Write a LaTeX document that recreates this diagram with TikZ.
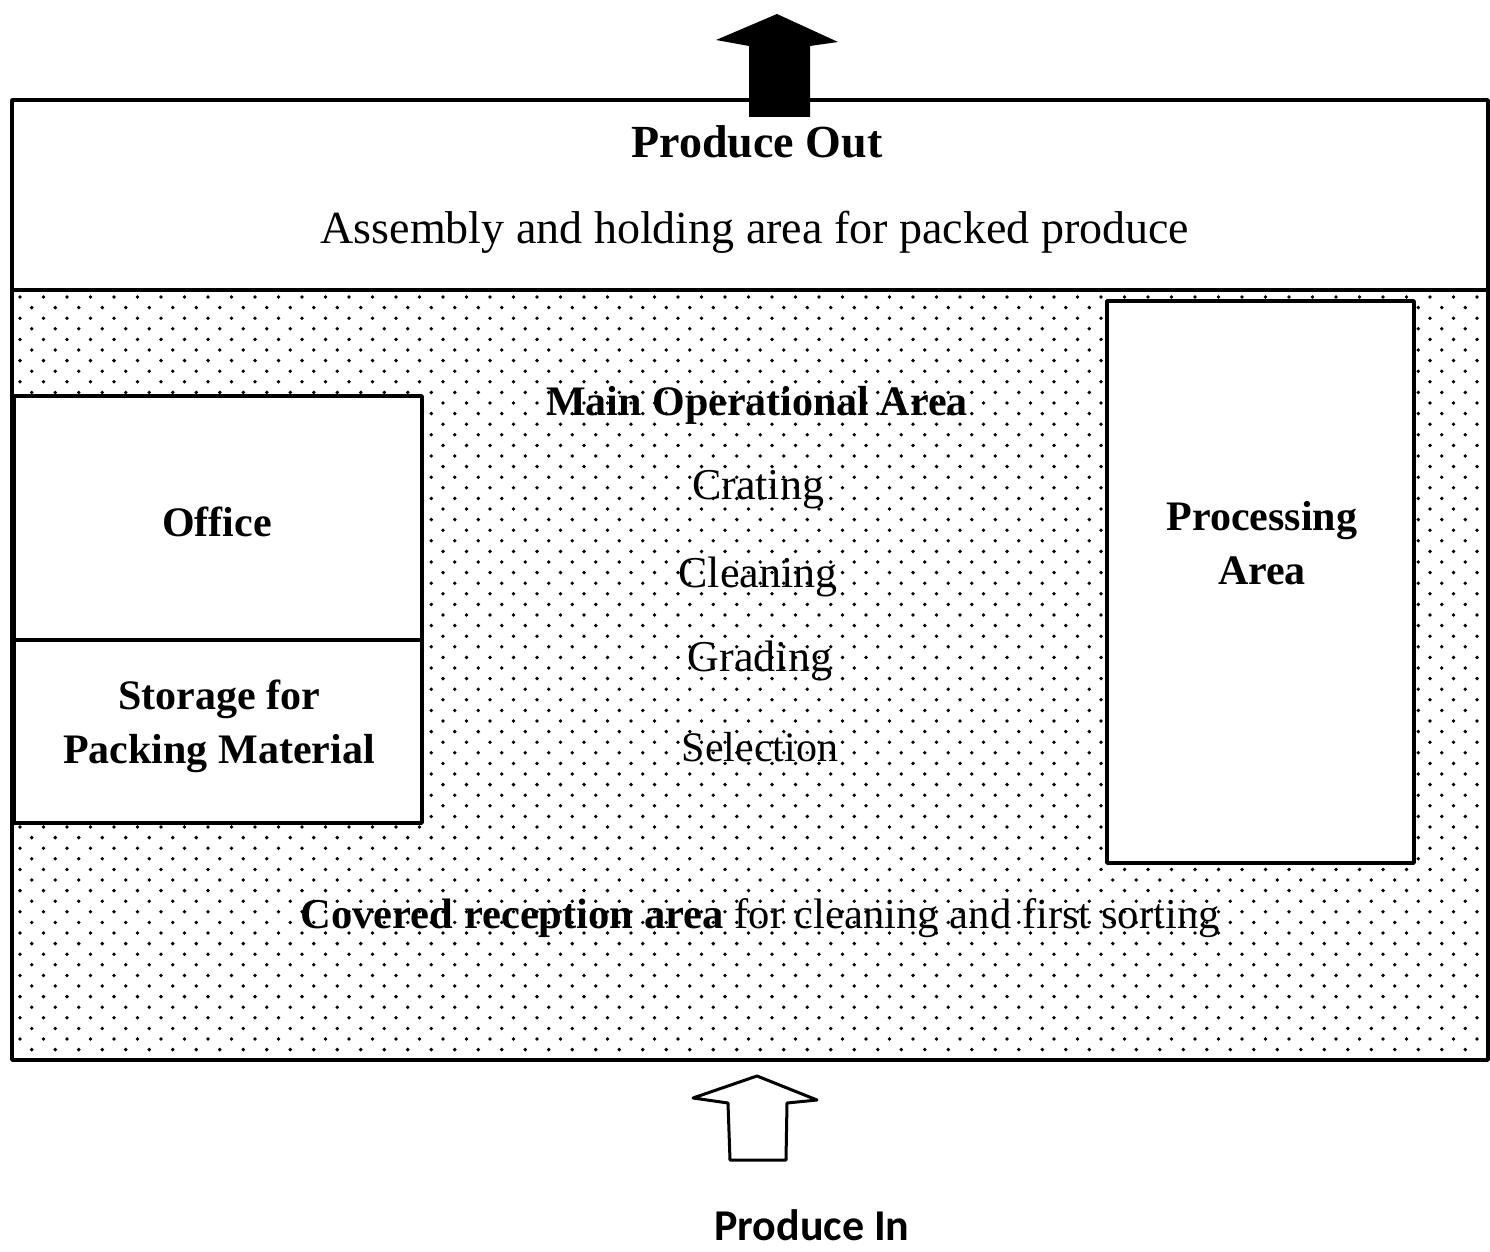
\documentclass[tikz,border=0pt]{standalone}
\usepackage{fontspec}
\setmainfont{Liberation Serif}
\newfontfamily\labelsans{Carlito}
\begin{document}
\begin{tikzpicture}[x=0.5pt,y=-0.5pt,line join=round,
    txt/.style={inner sep=0pt,font=\fontsize{22}{26}\selectfont},
    btxt/.style={txt,font=\fontsize{21}{25}\selectfont\bfseries},
    wall/.style={line width=1.8pt}]

          \useasboundingbox (0,0) rectangle (1490,1252);

          % dotted floor of the shed
          \begin{scope}
            \clip (12,290) rectangle (1488,1060);
            \foreach \r in {0,...,72} {
              \fill \foreach \c in {0,...,63}
                  {({20+23.5*\c+11.75*mod(\r,2)},{297+10.6*\r}) circle (1.9)};
            }
          \end{scope}

          % rooms
          \draw[wall,fill=white] (14,396) rectangle (422,640);
          \draw[wall,fill=white] (14,640) rectangle (422,823);
          \draw[wall,fill=white] (1107,301) rectangle (1414,863);

          % outline
          \draw[wall] (12,100) rectangle (1488,1060);
          \draw[wall] (12,290) -- (1488,290);

          % produce out
          \fill (777,14) -- (838,42) -- (810,46) -- (810,117) -- (749,117)
              -- (749,46) -- (716,40) -- cycle;

          % produce in
          \draw[line width=1.5pt,fill=white] (757,1076) -- (817,1100) -- (787,1103)
              -- (786,1160) -- (730,1160) -- (728,1103) -- (693,1098) -- cycle;

          \node[btxt,font=\fontsize{23}{27}\selectfont\bfseries] (out) at (757,142) {Produce Out};
          \node[txt,font=\fontsize{23}{27}\selectfont] (assembly) at (755,232)
              {Assembly and holding area for packed produce};

          \node[btxt] (main) at (757,405) {Main Operational Area};
          \node[txt] (crating) at (758,490) {Crating};
          \node[txt] (cleaning) at (758,577) {Cleaning};
          \node[txt] (grading) at (760,661) {Grading};
          \node[txt,font=\fontsize{21}{25}\selectfont] (selection) at (760,747) {Selection};

          \node[btxt] (office) at (217,522) {Office};
          \node[btxt,align=center] (storage) at (219,726) {Storage for\\[2pt]Packing Material};

          \node[btxt,align=center] (processing) at (1262,543) {Processing\\[2pt]Area};

          \node[txt,font=\fontsize{21.3}{25}\selectfont] (reception) at (760,918)
              {\textbf{Covered reception area} for cleaning and first sorting};

          \node[inner sep=0pt,anchor=base,font=\labelsans\fontsize{22}{26}\selectfont\bfseries]
              (in) at (812,1240) {Produce In};
      \end{tikzpicture}
\end{document}
